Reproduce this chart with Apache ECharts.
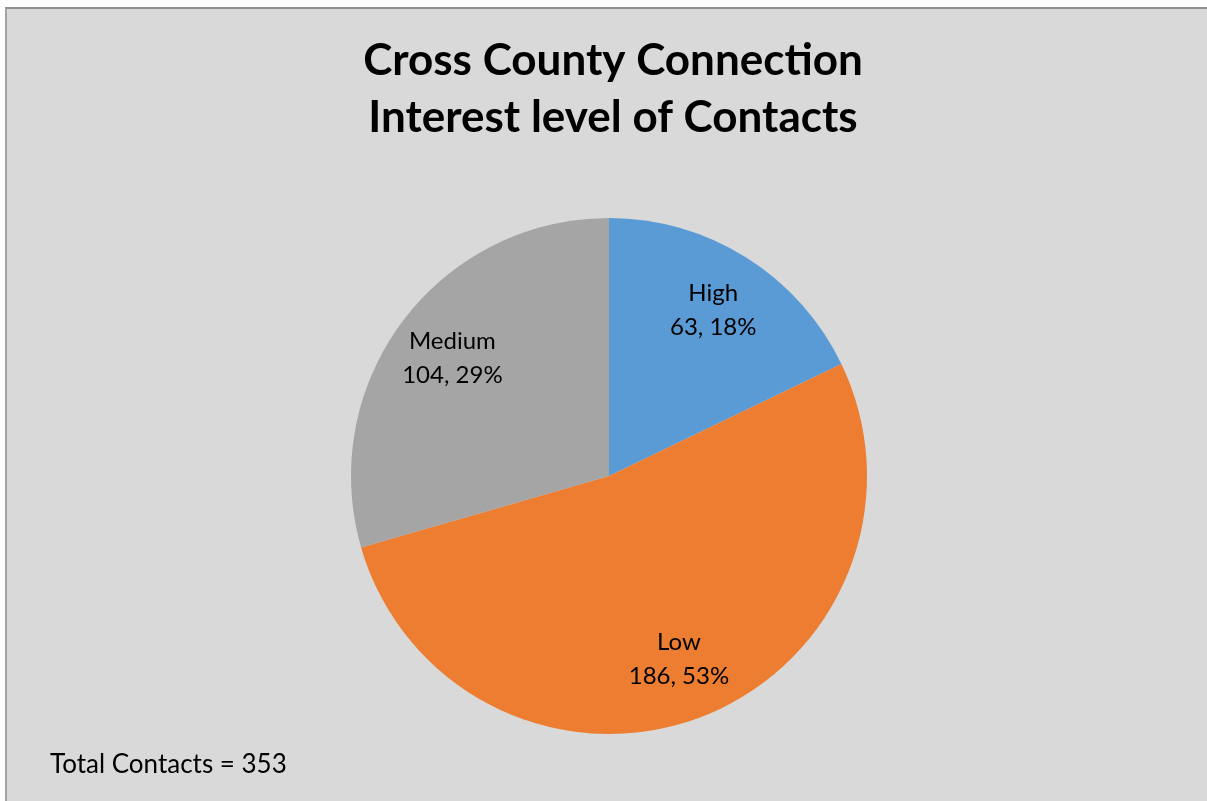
<!DOCTYPE html>
<html>
<head>
<meta charset="utf-8">
<script src="https://cdn.jsdelivr.net/npm/echarts@6/dist/echarts.min.js"></script>
<style>
  html, body { margin: 0; padding: 0; background: #ffffff; overflow: hidden; width: 100%; height: 100%; }
  #frame {
    position: absolute; left: 5px; top: 7px;
    width: 1260px; height: 830px;
    border-top: 2px solid #8f8f8f; border-left: 2px solid #a3a3a3;
    background: #d9d9d9;
  }
</style>
</head>
<body>
<div id="frame"></div>
<script>
const titleLines = ['Cross County Connection', 'Interest level of Contacts'];
const categories = ['High', 'Low', 'Medium'];
const values = [63, 186, 104];
const colors = ['#5b9bd5', '#ed7d31', '#a5a5a5'];
const totalLabel = 'Total Contacts = 353';

const pieData = categories.map((c, i) => ({ name: c, value: values[i], itemStyle: { color: colors[i] } }));

const chart = echarts.init(document.getElementById('frame'), null, { renderer: 'canvas' });
const FONT = 'Lato, "Open Sans", sans-serif';
chart.setOption({
  backgroundColor: '#d9d9d9',
  animation: false,
  title: [
    {
      text: titleLines.join('\n'),
      left: 601, top: 18, textAlign: 'center',
      textStyle: { fontFamily: FONT, fontWeight: 'bold', fontSize: 44, lineHeight: 57, color: '#000000' }
    },
    {
      text: totalLabel,
      left: 38, top: 736,
      textStyle: { fontFamily: FONT, fontWeight: 'normal', fontSize: 26, lineHeight: 30, color: '#000000' }
    }
  ],
  series: [
    {
      type: 'pie',
      center: [602, 467],
      radius: [0, 258],
      startAngle: 90,
      clockwise: true,
      silent: true,
      label: { show: false },
      labelLine: { show: false },
      itemStyle: { borderWidth: 0 },
      data: pieData
    },
    {
      type: 'pie',
      center: [602, 467],
      radius: [128, 258],
      startAngle: 90,
      clockwise: true,
      silent: true,
      percentPrecision: 0,
      itemStyle: { color: 'rgba(0,0,0,0)', borderWidth: 0 },
      labelLine: { show: false },
      label: {
        show: true, position: 'inside',
        formatter: '{b}\n{c}, {d}%',
        fontFamily: FONT, fontSize: 24, lineHeight: 34, color: '#000000', align: 'center'
      },
      data: categories.map((c, i) => ({ name: c, value: values[i] }))
    }
  ]
});
</script>
</body>
</html>
